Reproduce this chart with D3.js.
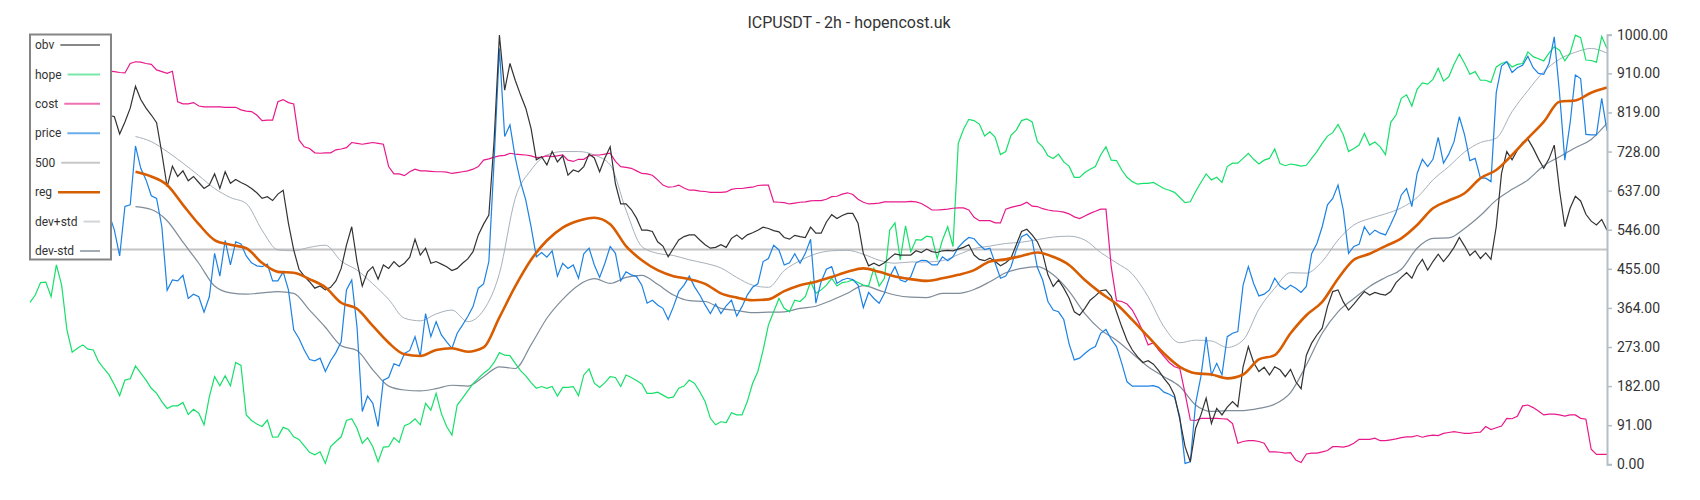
<!DOCTYPE html>
<html><head><meta charset="utf-8">
<script src="https://cdn.jsdelivr.net/npm/d3@7"></script>
<style>
html,body{margin:0;padding:0;background:#fff;}
svg{display:block;font-family:Roboto,"Noto Sans",sans-serif;}
</style></head><body>
<svg id="chart" width="1700" height="500"></svg>
<script>
const title = "ICPUSDT - 2h - hopencost.uk";
const tickValues = [0, 91, 182, 273, 364, 455, 546, 637, 728, 819, 910, 1000];
const legendNames = ["obv", "hope", "cost", "price", "500", "reg", "dev+std", "dev-std"];
const level500 = 500;

const hope = [377,394,423,424,390,464,417,313,261,270,
278,268,266,239,223,208,185,160,196,199,
229,212,196,177,165,146,130,136,136,144,
116,128,119,92,157,204,183,206,183,237,
230,115,102,94,88,103,63,64,86,81,
64,58,43,28,22,29,2,41,53,64,
102,106,84,49,62,41,6,40,41,62,
51,90,95,106,92,
142,126,165,118,88,68,138,154,171,188,
200,212,221,237,260,254,253,235,218,206,
190,177,181,177,181,159,179,179,181,160,
208,222,189,179,190,204,202,181,208,202,
195,187,165,165,168,161,154,157,177,182,
196,188,169,146,107,92,99,97,120,115,
115,146,188,216,266,324,355,386,363,355,
382,379,390,425,398,406,417,433,415,423,
425,429,423,417,415,456,415,433,545,562,
476,555,495,523,522,531,529,479,522,553,
507,747,780,803,800,792,764,774,761,721,
728,766,778,800,804,797,751,739,718,712,
722,704,694,668,668,679,687,693,720,739,
708,707,685,668,658,652,654,654,656,649,
642,638,633,621,609,611,635,656,676,662,
668,656,693,701,701,712,724,710,699,708,
712,734,700,695,699,697,694,696,712,728,
747,764,772,791,767,728,735,743,770,743,
750,739,721,796,813,852,860,834,873,888,
885,896,922,892,902,931,955,933,908,914,
894,894,889,925,933,937,925,931,933,960,
949,944,939,957,972,964,939,957,999,993,
941,940,936,996,968];

const price = [620,600,640,610,590,630,650,600,560,590,610,580,600,620,600,
582,545,485,600,604,741,689,662,625,619,
553,405,429,427,440,386,396,390,354,390,
491,438,521,464,518,513,485,469,462,460,
466,427,427,448,406,313,293,266,244,241,
247,216,241,260,285,406,429,320,123,159,
142,88,196,202,234,229,258,265,297,251,
351,297,332,301,285,270,305,324,344,367,
410,420,472,708,968,763,790,714,658,615,
553,483,493,482,497,438,468,456,464,433,
490,503,464,435,468,507,491,427,448,441,
437,417,375,382,371,363,337,367,402,417,
438,413,394,371,351,373,351,369,382,345,
367,394,412,420,472,479,510,499,464,469,
490,468,491,524,375,425,454,460,421,429,
433,430,417,365,400,386,375,398,437,460,
429,425,437,469,475,474,464,464,483,474,
483,505,518,528,525,511,500,503,468,433,
438,460,499,530,536,522,458,429,379,359,
355,337,281,243,247,258,268,274,305,314,
291,274,235,192,182,182,182,182,183,179,
168,163,156,111,2,6,142,204,297,208,
235,208,297,305,309,417,460,421,392,396,
406,433,415,407,417,410,400,414,490,514,
553,604,619,650,592,491,507,512,553,534,
545,538,534,559,586,627,642,600,677,710,
693,710,761,701,722,751,809,767,707,712,
666,666,658,865,927,937,912,923,929,950,
923,910,908,933,995,864,708,794,906,898,
768,767,767,852,776];

const obv = [780,800,790,820,810,830,800,790,815,840,820,800,830,820,805,
813,809,769,797,829,880,849,829,813,795,
724,646,694,670,683,660,670,656,642,650,
676,642,681,654,663,656,650,642,632,619,
623,614,629,638,561,499,454,438,425,410,
415,406,412,427,456,510,553,472,415,448,
460,431,464,456,472,460,468,482,524,487,
503,468,472,466,460,451,456,468,478,495,
534,559,580,755,999,871,933,894,860,829,
782,709,716,697,728,704,718,673,685,681,
693,722,713,681,713,739,653,606,606,593,
573,545,545,542,518,508,483,503,522,530,
534,534,522,511,503,505,511,505,526,534,
524,534,539,545,552,549,544,541,528,524,
533,530,528,552,538,538,564,581,572,579,
584,584,561,491,462,468,462,469,480,490,
487,487,487,497,493,501,495,493,497,498,
497,501,505,511,487,477,474,480,472,462,
469,480,511,542,547,534,518,491,441,414,
429,410,387,355,347,363,382,392,404,406,
391,355,320,288,266,250,237,241,233,218,
200,185,161,105,41,6,84,115,154,95,
130,115,133,146,134,227,274,237,216,226,
208,227,220,204,221,192,176,254,282,301,
317,367,402,406,378,359,373,388,402,394,
400,396,394,402,423,435,446,433,460,477,
452,472,489,472,487,505,528,508,486,497,
479,492,477,553,677,728,709,731,749,757,
736,711,689,711,743,638,553,596,624,613,
582,566,557,570,545];

const cost = [960,962,958,968,975,972,980,988,995,1000,998,970,945,925,918,
915,914,912,911,933,937,936,933,931,918,
914,910,915,844,839,839,842,834,832,832,
832,832,831,831,831,825,822,821,813,800,
801,801,844,849,842,839,755,739,735,725,
724,725,725,732,734,737,749,747,745,747,
749,747,745,693,676,676,672,681,687,683,
683,682,681,681,680,677,679,681,683,687,
693,708,711,715,718,719,724,722,721,720,
718,714,715,718,716,718,720,708,705,710,
710,718,720,720,722,724,705,693,691,689,
683,677,676,673,662,650,645,646,650,643,
638,638,636,635,633,633,633,634,640,642,
642,644,645,649,650,650,611,610,609,606,
608,610,611,613,614,614,617,623,624,629,
632,628,617,610,606,607,608,611,611,611,
611,611,612,611,607,600,592,592,593,594,
596,597,597,592,575,567,567,567,562,562,
594,598,601,604,610,601,600,595,592,590,
589,587,583,576,572,578,584,589,594,594,
460,381,379,373,359,336,309,278,283,266,
251,237,227,223,165,103,102,107,107,107,
107,106,105,95,49,53,55,55,53,49,
29,29,28,26,27,10,4,24,26,26,
29,32,41,41,40,43,49,58,58,58,
61,55,55,57,59,62,64,64,67,63,
66,68,67,72,74,76,74,72,72,74,
75,88,81,85,89,107,106,112,136,138,
132,124,115,117,117,115,112,115,115,107,
105,35,23,23,23];

// smooth series sampled every 3rd bar, starting at bar 20
const smoothStart = 20, smoothStep = 3;
const reg = [681,670,650,604,559,522,511,503,469,448,446,431,412,376,362,322,283,256,252,
266,270,262,272,342,414,476,521,551,567,574,559,508,475,452,438,431,420,398,388,382,384,403,417,425,436,
448,456,448,437,431,427,433,441,452,472,477,485,493,483,464,429,399,373,336,297,258,227,212,209,200,209,244,
254,305,347,378,432,476,490,508,526,557,596,614,631,666,685,720,759,797,844,847,865,877];
const devPlus = [763,751,728,701,672,642,621,607,545,499,497,505,510,473,452,420,384,340,334,
350,359,332,359,444,619,685,720,728,728,720,697,592,507,491,486,476,468,457,435,417,412,451,474,490,497,
498,489,475,468,471,471,474,488,502,508,514,517,523,529,531,522,493,469,443,390,320,283,289,287,272,289,361,
410,446,445,472,522,557,572,583,597,621,662,693,727,749,759,821,870,914,943,959,968,957];
const devMinus = [600,593,567,517,468,415,399,396,399,402,398,359,319,276,265,220,182,173,171,
176,184,182,204,227,223,278,340,384,417,432,421,435,440,419,394,381,379,363,358,353,354,355,363,368,382,
398,416,405,394,389,388,398,398,407,425,446,456,460,441,403,351,313,289,258,227,204,181,138,123,125,125,130,
140,167,231,305,355,386,414,435,454,503,526,527,549,579,615,640,662,695,716,737,756,794];

const svg = d3.select("#chart");
const N = hope.length;
const x = d3.scaleLinear().domain([0, N - 1]).range([30, 1607]);
const y = d3.scaleLinear().domain([0, 1000]).range([464.3, 34.7]);

const jagged = d3.line().x((d, i) => x(i)).y(d => y(d));
const smooth = d3.line().x((d, i) => x(smoothStart + i * smoothStep)).y(d => y(d)).curve(d3.curveMonotoneX);

const g = svg.append("g");
g.append("line").attr("x1", x(0)).attr("x2", x(N - 1)).attr("y1", y(level500)).attr("y2", y(level500))
  .attr("stroke", "#c4c4c4").attr("stroke-width", 2);

const styles = {
  obv: {c: "#333333", w: 1.2, lc: "#888888"},
  hope: {c: "#16e06a", w: 1.2, lc: "#78e8a8"},
  cost: {c: "#e8198b", w: 1.2, lc: "#ef6fb3"},
  price: {c: "#1c82e4", w: 1.2, lc: "#6aaeea"},
  "500": {c: "#c4c4c4", w: 2, lc: "#c8c8c8"},
  reg: {c: "#d85c00", w: 2.6, lc: "#d35f00"},
  "dev+std": {c: "#a7b1bb", w: 1, lc: "#d0d5da"},
  "dev-std": {c: "#7f8c99", w: 1.2, lc: "#a3abb4"}
};

g.append("path").datum(devPlus).attr("d", smooth).attr("fill", "none").attr("stroke", styles["dev+std"].c).attr("stroke-width", styles["dev+std"].w);
g.append("path").datum(devMinus).attr("d", smooth).attr("fill", "none").attr("stroke", styles["dev-std"].c).attr("stroke-width", styles["dev-std"].w);
g.append("path").datum(hope).attr("d", jagged).attr("fill", "none").attr("stroke", styles.hope.c).attr("stroke-width", styles.hope.w);
g.append("path").datum(cost).attr("d", jagged).attr("fill", "none").attr("stroke", styles.cost.c).attr("stroke-width", styles.cost.w);
g.append("path").datum(price).attr("d", jagged).attr("fill", "none").attr("stroke", styles.price.c).attr("stroke-width", styles.price.w);
g.append("path").datum(obv).attr("d", jagged).attr("fill", "none").attr("stroke", styles.obv.c).attr("stroke-width", styles.obv.w);
g.append("path").datum(reg).attr("d", smooth).attr("fill", "none").attr("stroke", styles.reg.c).attr("stroke-width", styles.reg.w).attr("stroke-linejoin", "round");

const axis = d3.axisRight(y).tickValues(tickValues).tickFormat(d3.format(".2f")).tickSize(5).tickSizeOuter(5).tickPadding(5);
const ag = svg.append("g").attr("transform", "translate(1607,0)").call(axis);
ag.select(".domain").attr("stroke", "#b4bec6").attr("stroke-width", 2);
ag.selectAll(".tick line").attr("stroke", "#b4bec6").attr("stroke-width", 1.5);
ag.selectAll(".tick text").attr("fill", "#333").attr("font-size", 14).attr("font-family", "Roboto");

svg.append("text").attr("x", 849).attr("y", 27.5).attr("text-anchor", "middle")
  .attr("font-size", 16).attr("font-weight", 400).attr("fill", "#333").text(title);

const lg = svg.append("g");
lg.append("rect").attr("x", 30).attr("y", 34.5).attr("width", 81).attr("height", 225)
  .attr("fill", "#fff").attr("stroke", "#858585").attr("stroke-width", 2);
const legendY = d3.scalePoint().domain(legendNames).range([45, 251]);
legendNames.forEach(name => {
  const cy = legendY(name);
  const t = lg.append("text").attr("x", 35).attr("y", cy).attr("dy", "0.35em")
    .attr("font-size", 12).attr("fill", "#333").text(name);
  const w = t.node().getComputedTextLength();
  lg.append("line").attr("x1", 35 + w + 6).attr("x2", 100).attr("y1", cy).attr("y2", cy)
    .attr("stroke", styles[name].lc).attr("stroke-width", name === "reg" ? 2.5 : 2);
});
</script>
</body></html>
